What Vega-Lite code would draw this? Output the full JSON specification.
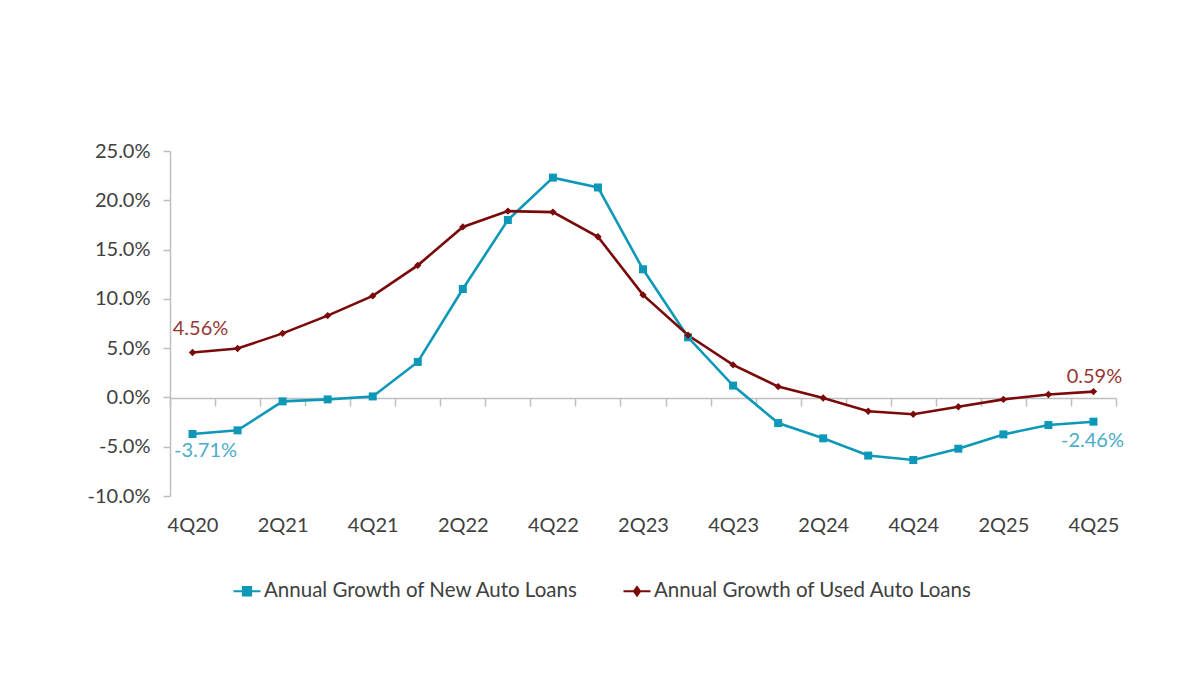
{
  "$schema": "https://vega.github.io/schema/vega-lite/v6.json",
  "autosize": "none",
  "width": 946,
  "height": 345,
  "padding": {"left": 170, "top": 151, "right": 84, "bottom": 179},
  "background": "white",
  "config": {
    "view": {"stroke": null},
    "font": "Lato",
    "axis": {"labelFont": "Lato", "labelFontSize": 20, "labelColor": "#404040", "domainColor": "#bfbfbf", "tickColor": "#bfbfbf", "domainWidth": 1.5, "tickWidth": 1.5, "grid": false, "title": null}
  },
  "data": {
    "values": [
      {"quarter": "4Q20", "series": "Annual Growth of New Auto Loans", "value": -3.71, "label": "-3.71%"},
      {"quarter": "1Q21", "series": "Annual Growth of New Auto Loans", "value": -3.34},
      {"quarter": "2Q21", "series": "Annual Growth of New Auto Loans", "value": -0.4},
      {"quarter": "3Q21", "series": "Annual Growth of New Auto Loans", "value": -0.2},
      {"quarter": "4Q21", "series": "Annual Growth of New Auto Loans", "value": 0.1},
      {"quarter": "1Q22", "series": "Annual Growth of New Auto Loans", "value": 3.6},
      {"quarter": "2Q22", "series": "Annual Growth of New Auto Loans", "value": 11.0},
      {"quarter": "3Q22", "series": "Annual Growth of New Auto Loans", "value": 18.0},
      {"quarter": "4Q22", "series": "Annual Growth of New Auto Loans", "value": 22.3},
      {"quarter": "1Q23", "series": "Annual Growth of New Auto Loans", "value": 21.3},
      {"quarter": "2Q23", "series": "Annual Growth of New Auto Loans", "value": 13.0},
      {"quarter": "3Q23", "series": "Annual Growth of New Auto Loans", "value": 6.1},
      {"quarter": "4Q23", "series": "Annual Growth of New Auto Loans", "value": 1.2},
      {"quarter": "1Q24", "series": "Annual Growth of New Auto Loans", "value": -2.6},
      {"quarter": "2Q24", "series": "Annual Growth of New Auto Loans", "value": -4.15},
      {"quarter": "3Q24", "series": "Annual Growth of New Auto Loans", "value": -5.9},
      {"quarter": "4Q24", "series": "Annual Growth of New Auto Loans", "value": -6.35},
      {"quarter": "1Q25", "series": "Annual Growth of New Auto Loans", "value": -5.2},
      {"quarter": "2Q25", "series": "Annual Growth of New Auto Loans", "value": -3.75},
      {"quarter": "3Q25", "series": "Annual Growth of New Auto Loans", "value": -2.8},
      {"quarter": "4Q25", "series": "Annual Growth of New Auto Loans", "value": -2.46, "label": "-2.46%"},
      {"quarter": "4Q20", "series": "Annual Growth of Used Auto Loans", "value": 4.56, "label": "4.56%"},
      {"quarter": "1Q21", "series": "Annual Growth of Used Auto Loans", "value": 4.96},
      {"quarter": "2Q21", "series": "Annual Growth of Used Auto Loans", "value": 6.5},
      {"quarter": "3Q21", "series": "Annual Growth of Used Auto Loans", "value": 8.3},
      {"quarter": "4Q21", "series": "Annual Growth of Used Auto Loans", "value": 10.3},
      {"quarter": "1Q22", "series": "Annual Growth of Used Auto Loans", "value": 13.4},
      {"quarter": "2Q22", "series": "Annual Growth of Used Auto Loans", "value": 17.3},
      {"quarter": "3Q22", "series": "Annual Growth of Used Auto Loans", "value": 18.9},
      {"quarter": "4Q22", "series": "Annual Growth of Used Auto Loans", "value": 18.8},
      {"quarter": "1Q23", "series": "Annual Growth of Used Auto Loans", "value": 16.3},
      {"quarter": "2Q23", "series": "Annual Growth of Used Auto Loans", "value": 10.4},
      {"quarter": "3Q23", "series": "Annual Growth of Used Auto Loans", "value": 6.3},
      {"quarter": "4Q23", "series": "Annual Growth of Used Auto Loans", "value": 3.3},
      {"quarter": "1Q24", "series": "Annual Growth of Used Auto Loans", "value": 1.1},
      {"quarter": "2Q24", "series": "Annual Growth of Used Auto Loans", "value": -0.05},
      {"quarter": "3Q24", "series": "Annual Growth of Used Auto Loans", "value": -1.4},
      {"quarter": "4Q24", "series": "Annual Growth of Used Auto Loans", "value": -1.7},
      {"quarter": "1Q25", "series": "Annual Growth of Used Auto Loans", "value": -0.95},
      {"quarter": "2Q25", "series": "Annual Growth of Used Auto Loans", "value": -0.2},
      {"quarter": "3Q25", "series": "Annual Growth of Used Auto Loans", "value": 0.3},
      {"quarter": "4Q25", "series": "Annual Growth of Used Auto Loans", "value": 0.59, "label": "0.59%"}
    ]
  },
  "encoding": {
    "x": {
      "field": "quarter", "type": "ordinal", "sort": null,
      "scale": {"paddingInner": 0, "paddingOuter": 0},
      "axis": {
        "orient": "bottom", "offset": -98, "tickBand": "extent", "tickSize": 8,
        "labelPadding": 109, "labelAngle": 0, "labelOverlap": false,
        "labelExpr": "test(/^[24]Q/, datum.label) ? datum.label : ''"
      }
    },
    "y": {
      "field": "value", "type": "quantitative",
      "scale": {"domain": [-10, 25], "nice": false, "zero": false},
      "axis": {
        "values": [-10, -5, 0, 5, 10, 15, 20, 25], "tickSize": 7, "labelPadding": 13,
        "labelExpr": "(datum.value < 0 ? '-' : '') + format(abs(datum.value), '.1f') + '%'"
      }
    }
  },
  "layer": [
    {
      "mark": {"type": "line", "strokeWidth": 2.6},
      "encoding": {
        "color": {
          "field": "series", "type": "nominal",
          "scale": {"domain": ["Annual Growth of New Auto Loans", "Annual Growth of Used Auto Loans"], "range": ["#0e98b8", "#7a0a0a"]},
          "legend": {
            "title": null, "orient": "none", "legendX": 62, "legendY": 425, "direction": "horizontal",
            "labelFont": "Lato", "labelFontSize": 20.5, "labelColor": "#404040", "columnPadding": 40, "labelOffset": 2, "labelLimit": 0,
            "symbolSize": 729, "symbolStrokeWidth": 2.2,
            "encode": {
              "symbols": {
                "update": {
                  "shape": {"signal": "datum.value == 'Annual Growth of New Auto Loans' ? 'M-1,0H1M-0.3,-0.3H0.3V0.3H-0.3Z' : 'M-1,0H1M0,-0.3L0.22,0L0,0.3L-0.22,0Z'"},
                  "fill": {"signal": "datum.value == 'Annual Growth of New Auto Loans' ? '#0e98b8' : '#7a0a0a'"},
                  "stroke": {"signal": "datum.value == 'Annual Growth of New Auto Loans' ? '#0e98b8' : '#7a0a0a'"}
                }
              }
            }
          }
        }
      }
    },
    {
      "mark": {"type": "point", "filled": true, "opacity": 1},
      "encoding": {
        "color": {"field": "series", "type": "nominal", "legend": null},
        "shape": {"field": "series", "type": "nominal", "scale": {"range": ["square", "diamond"]}, "legend": null},
        "size": {"field": "series", "type": "nominal", "scale": {"range": [64, 55]}, "legend": null}
      }
    },
    {
      "transform": [{"filter": "datum.label == '-3.71%'"}],
      "mark": {"type": "text", "font": "Lato", "fontSize": 20, "color": "#4bacc6", "dy": 17, "dx": 13},
      "encoding": {"text": {"field": "label"}}
    },
    {
      "transform": [{"filter": "datum.label == '-2.46%'"}],
      "mark": {"type": "text", "font": "Lato", "fontSize": 20, "color": "#4bacc6", "dy": 19, "dx": -1},
      "encoding": {"text": {"field": "label"}}
    },
    {
      "transform": [{"filter": "datum.label == '4.56%'"}],
      "mark": {"type": "text", "font": "Lato", "fontSize": 20, "color": "#953735", "dy": -23, "dx": 8},
      "encoding": {"text": {"field": "label"}}
    },
    {
      "transform": [{"filter": "datum.label == '0.59%'"}],
      "mark": {"type": "text", "font": "Lato", "fontSize": 20, "color": "#953735", "dy": -15, "dx": 1},
      "encoding": {"text": {"field": "label"}}
    }
  ]
}
